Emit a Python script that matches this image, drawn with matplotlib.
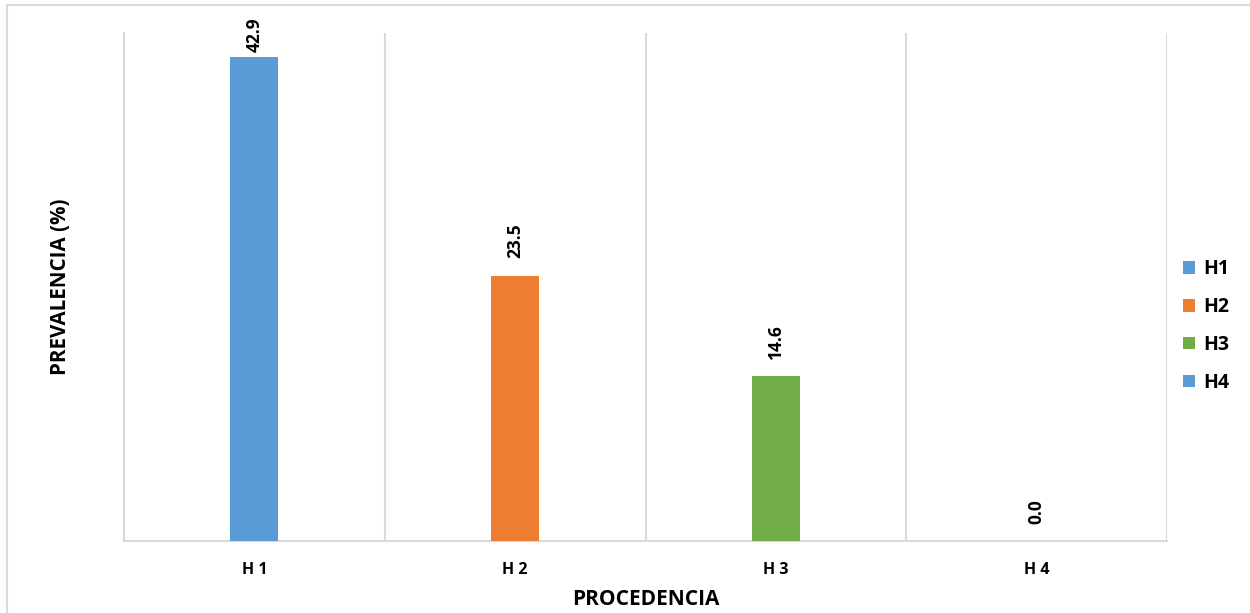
import matplotlib
matplotlib.use("Agg")
import matplotlib.pyplot as plt
from matplotlib.patches import Rectangle, Patch

categories = ["H 1", "H 2", "H 3", "H 4"]
legend_names = ["H1", "H2", "H3", "H4"]
prevalence = [42.9, 23.5, 14.6, 0.0]
colors = ["#5B9BD5", "#ED7D31", "#70AD47", "#5B9BD5"]

plt.rcParams["font.family"] = ["Open Sans", "DejaVu Sans"]
grid_color = "#D9D9D9"

fig = plt.figure(figsize=(12.5, 6.13), dpi=100)
ax = fig.add_axes([124 / 1250, 1 - 541 / 613, (1167 - 124) / 1250, (541 - 33) / 613])

x = list(range(len(categories)))
ax.bar(x, prevalence, width=0.184, color=colors, zorder=3)

ax.set_xlim(-0.5, len(categories) - 0.5)
ax.set_ylim(0, 45)

# category separators
for b in [i + 0.5 for i in range(len(categories))]:
    ax.axvline(b, color=grid_color, lw=1.5, zorder=1)

for side in ["top", "right"]:
    ax.spines[side].set_visible(False)
for side in ["left", "bottom"]:
    ax.spines[side].set_color(grid_color)
    ax.spines[side].set_linewidth(1.5)

ax.set_yticks([])
ax.set_xticks(x)
ax.set_xticklabels(categories, fontsize=11.5, fontweight="bold")
ax.tick_params(axis="x", length=0, pad=15)

# value labels above the bars, kept inside the plot headroom
for xi, v in zip(x, prevalence):
    y = min(v + 1.55, 43.3)
    ax.text(xi, y, f"{v:.1f}", rotation=90, ha="center", va="bottom",
            fontsize=12.5, fontweight="bold", color="#000000")

ax.set_xlabel("PROCEDENCIA", fontsize=15, fontweight="bold", labelpad=8)
ax.set_ylabel("PREVALENCIA (%)", fontsize=14.8, fontweight="bold", labelpad=38)

handles = [Patch(facecolor=c) for c in colors]
leg = fig.legend(handles, legend_names, loc="center left",
                 bbox_to_anchor=(1165 / 1250, 1 - 326 / 613),
                 frameon=False, handlelength=0.62, handleheight=0.62,
                 handletextpad=0.45, labelspacing=0.92,
                 prop={"size": 14, "weight": "bold"})

# outer chart frame
fig.patches.append(Rectangle((6.5 / 1250, -0.1), 1.2, 1 - 5.5 / 613 + 0.1,
                             transform=fig.transFigure, fill=False,
                             edgecolor=grid_color, lw=1.5))

fig.savefig("out.png", dpi=100)
